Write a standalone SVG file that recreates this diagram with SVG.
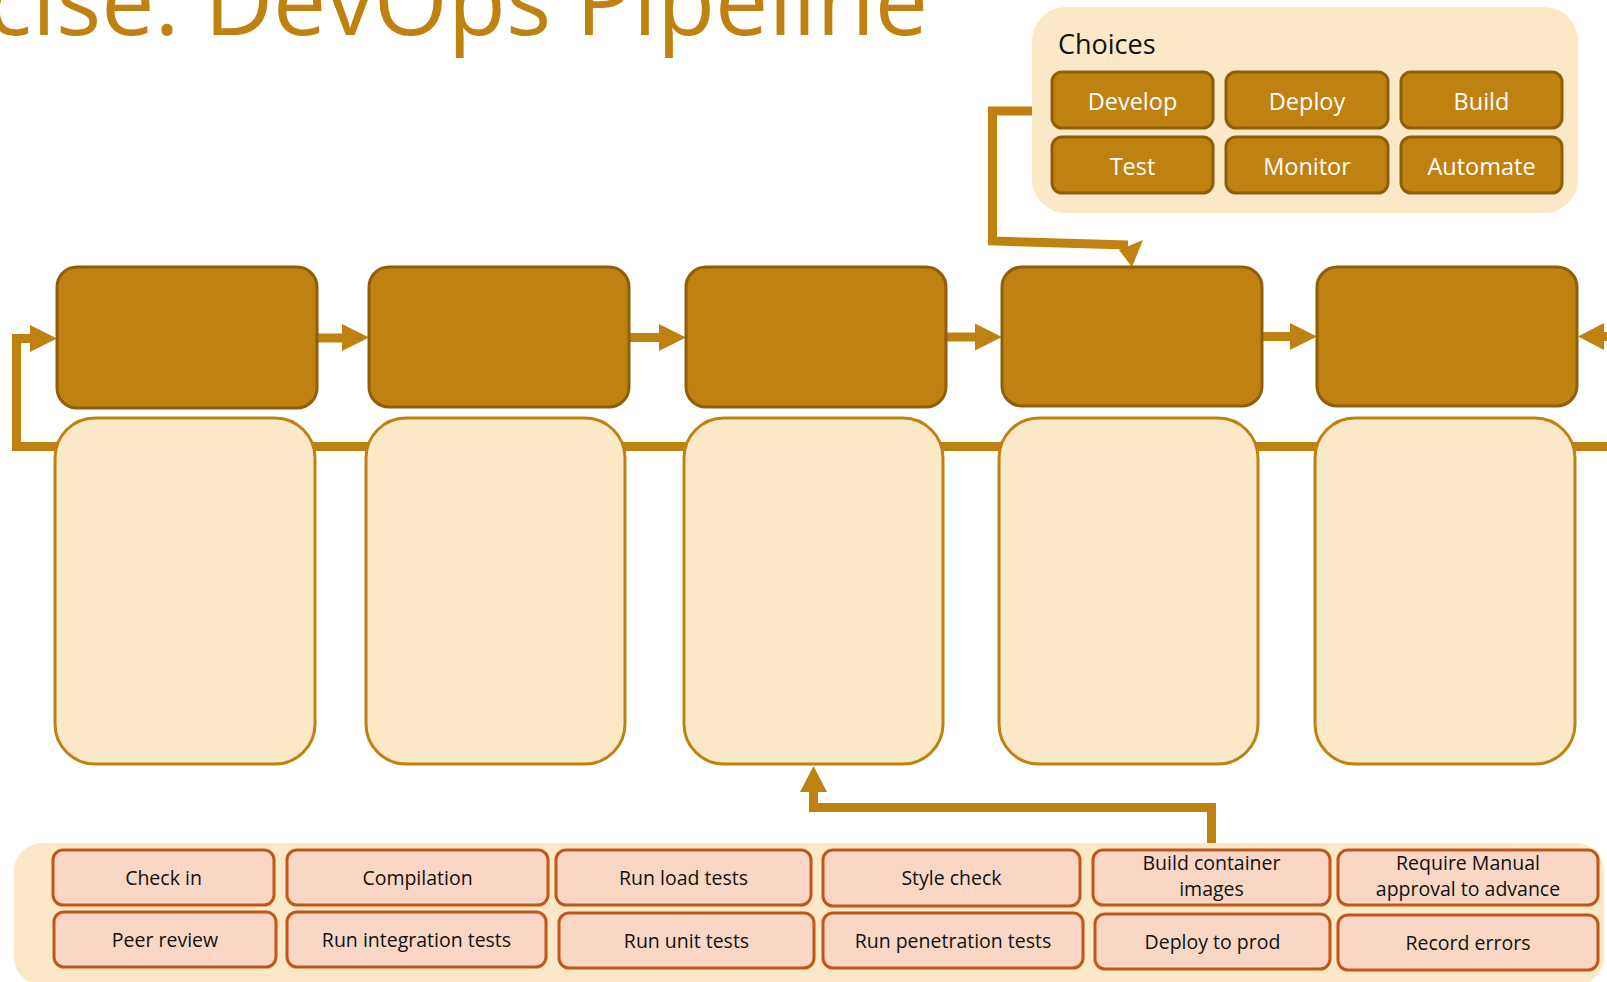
<svg xmlns="http://www.w3.org/2000/svg" width="1607" height="982" viewBox="0 0 1607 982">
<style>
.stage{fill:#BF8211;stroke:#8F5E0A;stroke-width:3}
.slot{fill:#FAE8C6;stroke:#BF8211;stroke-width:3}
.panel{fill:#FAE8C6}
.choice{fill:#BF8211;stroke:#8F5E0A;stroke-width:3}
.item{fill:#FAD7C5;stroke:#C2561A;stroke-width:3}
.ct{font-family:"Open Sans","Noto Sans",sans-serif;font-size:23.5px;fill:#ffffff;text-anchor:middle}
.it{font-family:"Open Sans","Noto Sans",sans-serif;font-size:19.5px;fill:#111111;text-anchor:middle}
.ln{fill:none;stroke:#BF8211;stroke-width:9}
.ah{fill:#BF8211}
</style>
<text id="title" x="928" y="35" text-anchor="end" font-family="'Open Sans','Noto Sans',sans-serif" font-size="95" fill="#BF8211">cise: DevOps Pipeline</text>

<g id="connectors">
  <path class="ln" d="M12 446.5 H1607"/>
  <path class="ln" d="M16.5 446.5 V338.5 H32"/>
  <polygon class="ah" points="30,325 57,338.5 30,352"/>
  <path class="ln" d="M317 338 H344"/>
  <polygon class="ah" points="342,324 369,337.5 342,351"/>
  <path class="ln" d="M629 337.5 H661"/>
  <polygon class="ah" points="659,324 686,337.5 659,351"/>
  <path class="ln" d="M946 337 H977"/>
  <polygon class="ah" points="975,323.5 1002,337 975,350.5"/>
  <path class="ln" d="M1262 336.5 H1292"/>
  <polygon class="ah" points="1290,323 1317,336.5 1290,350"/>
  <path class="ln" d="M1607 336.5 H1602"/>
  <polygon class="ah" points="1604,323 1578,336.5 1604,350"/>
  <path class="ln" d="M1034 111 H992.5 V241 L1128 245"/>
  <polygon class="ah" points="1119,250 1143,240 1132,267"/>
  <path class="ln" d="M1211.5 851 V807.5 H813.5 V790"/>
  <polygon class="ah" points="800,792 827,792 813.5,766"/>
</g>

<g id="stage1"><rect class="stage" x="57" y="267" width="260" height="141" rx="20"/></g>
<g id="stage2"><rect class="stage" x="369" y="267" width="260" height="140" rx="20"/></g>
<g id="stage3"><rect class="stage" x="686" y="267" width="260" height="140" rx="20"/></g>
<g id="stage4"><rect class="stage" x="1002" y="267" width="260" height="139" rx="20"/></g>
<g id="stage5"><rect class="stage" x="1317" y="267" width="260" height="139" rx="20"/></g>

<g id="slot1"><rect class="slot" x="55" y="418" width="260" height="346" rx="40"/></g>
<g id="slot2"><rect class="slot" x="366" y="418" width="259" height="346" rx="40"/></g>
<g id="slot3"><rect class="slot" x="684" y="418" width="259" height="346" rx="40"/></g>
<g id="slot4"><rect class="slot" x="999" y="418" width="259" height="346" rx="40"/></g>
<g id="slot5"><rect class="slot" x="1315" y="418" width="260" height="346" rx="40"/></g>

<g id="choices">
  <rect class="panel" x="1032" y="7" width="546" height="206" rx="34"/>
  <text x="1058" y="54" font-family="'Open Sans','Noto Sans',sans-serif" font-size="27" fill="#111111">Choices</text>
</g>
<g id="choice-develop"><rect class="choice" x="1052" y="72" width="161" height="56" rx="10"/><text class="ct" x="1132.5" y="110">Develop</text></g>
<g id="choice-deploy"><rect class="choice" x="1226" y="72" width="162" height="56" rx="10"/><text class="ct" x="1307" y="110">Deploy</text></g>
<g id="choice-build"><rect class="choice" x="1401" y="72" width="161" height="56" rx="10"/><text class="ct" x="1481.5" y="110">Build</text></g>
<g id="choice-test"><rect class="choice" x="1052" y="137" width="161" height="56" rx="10"/><text class="ct" x="1132.5" y="175">Test</text></g>
<g id="choice-monitor"><rect class="choice" x="1226" y="137" width="162" height="56" rx="10"/><text class="ct" x="1307" y="175">Monitor</text></g>
<g id="choice-automate"><rect class="choice" x="1401" y="137" width="161" height="56" rx="10"/><text class="ct" x="1481.5" y="175">Automate</text></g>

<g id="items-panel"><rect class="panel" x="14" y="843" width="1590" height="142" rx="28"/></g>
<g id="item-checkin"><rect class="item" x="53" y="850" width="221" height="55" rx="10"/><text class="it" x="163.5" y="885">Check in</text></g>
<g id="item-compilation"><rect class="item" x="287" y="850" width="261" height="55" rx="10"/><text class="it" x="417.5" y="885">Compilation</text></g>
<g id="item-loadtests"><rect class="item" x="556" y="850" width="255" height="55" rx="10"/><text class="it" x="683.5" y="885">Run load tests</text></g>
<g id="item-stylecheck"><rect class="item" x="823" y="850" width="257" height="56" rx="10"/><text class="it" x="951.5" y="885">Style check</text></g>
<g id="item-container"><rect class="item" x="1093" y="850" width="237" height="55" rx="10"/><text class="it" x="1211.5" y="870">Build container</text><text class="it" x="1211.5" y="896">images</text></g>
<g id="item-approval"><rect class="item" x="1338" y="850" width="260" height="55" rx="10"/><text class="it" x="1468" y="870">Require Manual</text><text class="it" x="1468" y="896">approval to advance</text></g>
<g id="item-peerreview"><rect class="item" x="54" y="912" width="222" height="55" rx="10"/><text class="it" x="165" y="947">Peer review</text></g>
<g id="item-integration"><rect class="item" x="287" y="912" width="259" height="55" rx="10"/><text class="it" x="416.5" y="947">Run integration tests</text></g>
<g id="item-unittests"><rect class="item" x="559" y="913" width="255" height="55" rx="10"/><text class="it" x="686.5" y="948">Run unit tests</text></g>
<g id="item-pentest"><rect class="item" x="823" y="913" width="260" height="55" rx="10"/><text class="it" x="953" y="948">Run penetration tests</text></g>
<g id="item-deployprod"><rect class="item" x="1095" y="914" width="235" height="55" rx="10"/><text class="it" x="1212.5" y="949">Deploy to prod</text></g>
<g id="item-recorderrors"><rect class="item" x="1338" y="915" width="260" height="55" rx="10"/><text class="it" x="1468" y="950">Record errors</text></g>
</svg>
